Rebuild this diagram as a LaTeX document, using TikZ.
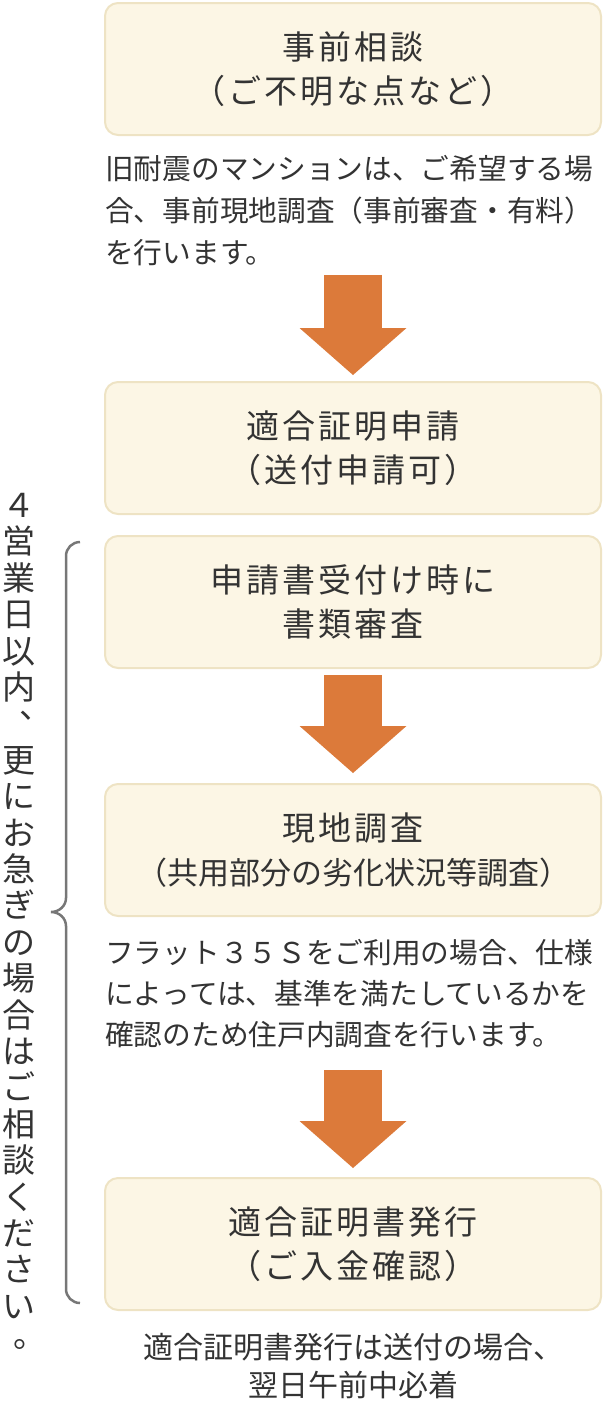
\documentclass[tikz,border=0pt]{standalone}
\usepackage{fontspec}
\setmainfont{Noto Sans CJK JP}
\newfontfamily\titlefam[LetterSpace=9]{Noto Sans CJK JP}
\usepackage{tikz}
\usetikzlibrary{arrows.meta,positioning}
\usepackage{xcolor}
\definecolor{boxfill}{HTML}{FCF6E5}
\definecolor{boxline}{HTML}{EEE3C4}
\definecolor{flow}{HTML}{DC7A3A}
\definecolor{ink}{HTML}{333333}
\definecolor{bracegray}{HTML}{777777}

\begin{document}
\begin{tikzpicture}[x=1pt, y=-1pt, node distance=20pt,
    box/.style={rectangle, draw=boxline, fill=boxfill, line width=2pt, rounded corners=13pt, minimum width=496pt, minimum height=132pt, align=center, text=ink, font=\titlefam\fontsize{33}{44}\selectfont},
    note/.style={inner sep=0pt, text=ink, font=\fontsize{28.7}{42}\selectfont},
    flowarrow/.style={draw=flow, line width=58pt, -{Triangle[width=107pt, length=47pt, line width=0pt]}},
    vchar/.style={inner sep=0pt, text=ink, font=\fontsize{33}{36}\selectfont},
    bracestyle/.style={draw=bracegray, line width=2.5pt}]
    \useasboundingbox (0,0) rectangle (603,1403);

    % steps
    \node[box] (soudan) at (353,69) {事前相談\\（ご不明な点など）};
    \node[note, align=left, anchor=north west] (note1) at (105,155) {旧耐震のマンションは、ご希望する場\\合、事前現地調査（事前審査・有料）\\を行います。};
    \node[box, below=245pt of soudan] (shinsei) {適合証明申請\\（送付申請可）};
    \node[box, below=20pt of shinsei] (shorui) {申請書受付け時に\\書類審査};
    \node[box, below=114pt of shorui] (genchi) {現地調査\\\fontsize{31}{44}\selectfont\addfontfeature{LetterSpace=0}（共用部分の劣化状況等調査）};
    \node[note, align=left, anchor=north west, font=\fontsize{28.7}{41}\selectfont] (note2) at (105,939) {フラット３５Ｓをご利用の場合、仕様\\によっては、基準を満たしているかを\\確認のため住戸内調査を行います。};
    \node[box, below=260pt of genchi] (hakko) {適合証明書発行\\（ご入金確認）};
    \node[note, align=center, below=22pt of hakko, font=\fontsize{30}{38}\selectfont] (note3) {適合証明書発行は送付の場合、\\翌日午前中必着};

    % arrows
    \draw[flowarrow, shorten <=9pt, shorten >=6pt] (note1.south -| shinsei.north) -- (shinsei.north);
    \draw[flowarrow, shorten <=6pt, shorten >=10pt] (shorui.south) -- (genchi.north);
    \draw[flowarrow, shorten <=22pt, shorten >=9pt] (note2.south -| hakko.north) -- (hakko.north);

    % brace and vertical note
    \draw[bracestyle] (80,542) to[out=180,in=90] (66,556) -- (66,898) to[out=-90,in=0] (51,912) to[out=0,in=90] (66,926) -- (66,1289) to[out=-90,in=180] (80,1303);
    \foreach \ch/\i in {４/0,営/1,業/2,日/3,以/4,内/5,更/7,に/8,お/9,急/10,ぎ/11,の/12,場/13,合/14,は/15,ご/16,相/17,談/18,く/19,だ/20,さ/21,い/22}
        \node[vchar, anchor=base] (v\i) at (18.5, 517.5+36.4*\i) {\ch};
    \node[vchar, anchor=base] (v6) at (36,718) {、};
    \node[vchar, anchor=base] (v23) at (29.5,1347) {。};
\end{tikzpicture}
\end{document}
